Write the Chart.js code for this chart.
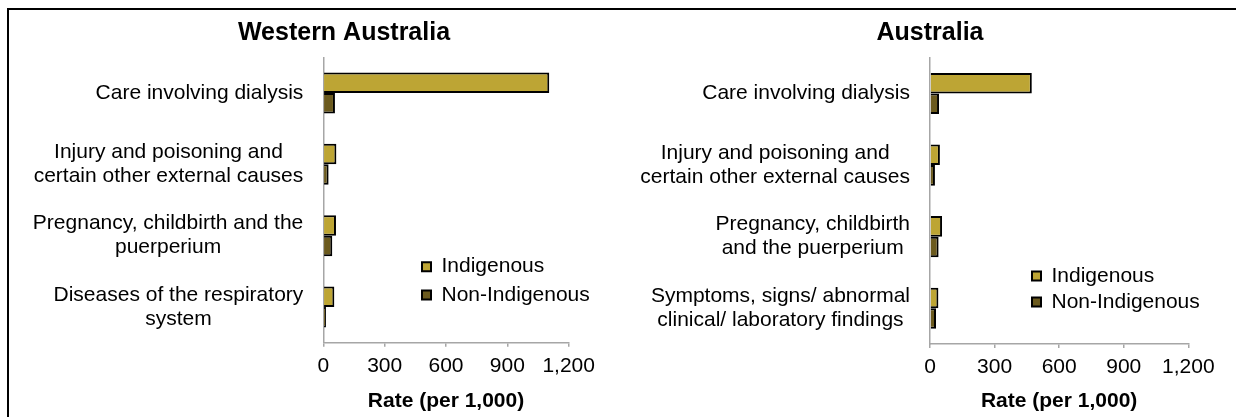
<!DOCTYPE html>
<html>
<head>
<meta charset="utf-8">
<script src="https://cdn.jsdelivr.net/npm/chart.js@4.4.1/dist/chart.umd.min.js"></script>
<style>
  html, body { margin: 0; padding: 0; background: #fff; }
  #page { position: relative; width: 1236px; height: 417px; overflow: hidden; }
  #frame { position: absolute; left: 7px; top: 8px; width: 1300px; height: 500px;
           border-top: 2px solid #000; border-left: 2px solid #000; }
  canvas { position: absolute; top: 0; }
  #waChart { left: 0; }
  #ausChart { left: 618px; }
</style>
</head>
<body>
<div id="page">
  <div id="frame"></div>
  <canvas id="waChart" width="618" height="417"></canvas>
  <canvas id="ausChart" width="618" height="417"></canvas>
</div>
<script>
const seriesNames = ['Indigenous', 'Non-Indigenous'];
const xTicks = { min: 0, max: 1200, step: 300 };

// Western Australia
const waCategories = [
    ['Care involving dialysis'],
    ['Injury and poisoning and', 'certain other external causes'],
    ['Pregnancy, childbirth and the', 'puerperium'],
    ['Diseases of the respiratory', 'system']
];
const waIndigenous = [1105, 64, 62, 54];
const waNonIndigenous = [57, 26, 44, 13];

// Australia
const ausCategories = [
    ['Care involving dialysis'],
    ['Injury and poisoning and', 'certain other external causes'],
    ['Pregnancy, childbirth', 'and the puerperium'],
    ['Symptoms, signs/ abnormal', 'clinical/ laboratory findings']
];
const ausIndigenous = [473, 46, 56, 39];
const ausNonIndigenous = [42, 23, 40, 28];

const FONT = '"Liberation Sans", Arial, sans-serif';
const axisGray = '#A6A6A6';
Chart.defaults.font.family = FONT;
Chart.defaults.color = '#000';

// titles + category labels (lines centred in a right-aligned block)
const panelText = {
    id: 'panelText',
    afterDraw(chart, args, opts) {
        const ctx = chart.ctx;
        const yScale = chart.scales.y;
        ctx.save();
        ctx.fillStyle = '#000';
        ctx.font = 'bold 25px ' + FONT;
        ctx.textAlign = 'center';
        ctx.textBaseline = 'alphabetic';
        ctx.fillText(opts.title, opts.titleX, opts.titleY);

        ctx.font = '21px ' + FONT;
        ctx.textBaseline = 'middle';
        chart.data.labels.forEach((lines, i) => {
            const widest = Math.max(...lines.map(l => ctx.measureText(l).width));
            const cx = chart.chartArea.left - opts.labelGap - widest / 2;
            const cy = yScale.getPixelForTick(i);
            lines.forEach((line, j) => {
                ctx.fillText(line, cx, cy + (j - (lines.length - 1) / 2) * opts.lineHeight);
            });
        });
        ctx.restore();
    }
};

// move the built-in legend to its spot inside the plot
const legendPlace = {
    id: 'legendPlace',
    beforeDraw(chart, args, opts) {
        const lg = chart.legend;
        const pad = chart.options.plugins.legend.labels.padding;
        lg.left = opts.x - pad;
        lg.top = opts.y - pad;
        lg.right = lg.left + lg.width;
        lg.bottom = lg.top + 200;
    }
};

function makeChart(id, labels, ind, non, cfg) {
    return new Chart(document.getElementById(id), {
        type: 'bar',
        data: {
            labels: labels,
            datasets: [{
                label: seriesNames[0],
                data: ind,
                backgroundColor: '#BDA534',
                borderColor: '#000',
                borderWidth: 2,
                categoryPercentage: 0.575,
                barPercentage: 1
            }, {
                label: seriesNames[1],
                data: non,
                backgroundColor: '#6B5A1E',
                borderColor: '#000',
                borderWidth: 2,
                categoryPercentage: 0.575,
                barPercentage: 1
            }]
        },
        options: {
            indexAxis: 'y',
            responsive: false,
            animation: false,
            layout: { padding: { left: 10, right: cfg.padRight, top: cfg.top, bottom: 0 } },
            scales: {
                x: {
                    min: xTicks.min,
                    max: xTicks.max,
                    ticks: { stepSize: xTicks.step, color: '#000', font: { size: 21 }, padding: 7 },
                    grid: { drawOnChartArea: false, color: axisGray, lineWidth: 1.5, tickLength: 4 },
                    border: { color: axisGray, width: 1.5 },
                    title: {
                        display: true,
                        text: 'Rate (per 1,000)',
                        color: '#000',
                        font: { size: 21, weight: 'bold', lineHeight: 1.2 },
                        padding: { top: 4, bottom: 2.7 }
                    },
                    afterFit: s => { s.height = cfg.xHeight; }
                },
                y: {
                    ticks: { display: false },
                    grid: { display: false },
                    border: { color: axisGray, width: 1.5 },
                    afterFit: s => { s.width = cfg.yWidth; }
                }
            },
            plugins: {
                legend: {
                    position: 'chartArea',
                    align: 'start',
                    labels: { boxWidth: 9, boxHeight: 9, padding: cfg.legendPad, color: '#000', font: { size: 21 } }
                },
                tooltip: { enabled: false },
                panelText: { title: cfg.title, titleX: cfg.titleX, titleY: 40, labelGap: 20, lineHeight: 24 },
                legendPlace: { x: cfg.legendX, y: cfg.legendY }
            }
        },
        plugins: [panelText, legendPlace]
    });
}

makeChart('waChart', waCategories, waIndigenous, waNonIndigenous, {
    title: 'Western Australia', titleX: 344,
    padRight: 49.3, top: 57.3, xHeight: 74.3, yWidth: 313.3,
    legendX: 422, legendY: 256.2, legendPad: 7.3
});

makeChart('ausChart', ausCategories, ausIndigenous, ausNonIndigenous, {
    title: 'Australia', titleX: 312,
    padRight: 47.7, top: 57.7, xHeight: 73, yWidth: 302,
    legendX: 414, legendY: 265.5, legendPad: 5
});
</script>
</body>
</html>
